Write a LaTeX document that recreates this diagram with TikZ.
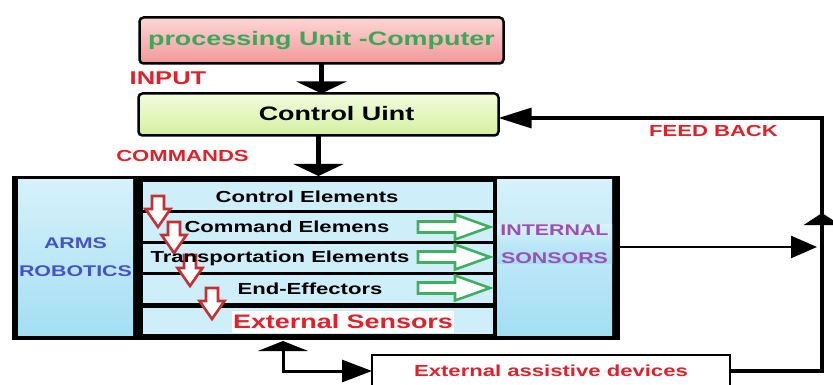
\documentclass[tikz,border=0pt]{standalone}
\usepackage{fontspec}
\setmainfont{Liberation Sans}[FakeStretch=1.38]
\usetikzlibrary{arrows.meta,positioning}

\definecolor{txtgreen}{RGB}{58,168,90}
\definecolor{tagred}{RGB}{226,32,42}
\definecolor{armsblue}{RGB}{70,82,205}
\definecolor{sensorpurple}{RGB}{160,78,178}
\definecolor{pinkhi}{RGB}{252,214,212}
\definecolor{pinklo}{RGB}{242,152,152}
\definecolor{greenhi}{RGB}{242,252,222}
\definecolor{greenlo}{RGB}{212,240,160}
\definecolor{panelhi}{RGB}{214,242,250}
\definecolor{panello}{RGB}{164,222,244}
\definecolor{rowblue}{RGB}{206,238,249}
\definecolor{arrred}{RGB}{196,48,52}
\definecolor{arrgreen}{RGB}{64,176,96}

\begin{document}
\begin{tikzpicture}[x=1pt, y=-1pt,
  unit/.style={draw, line width=2.5pt, rounded corners=4pt, inner sep=0pt, outer sep=0pt},
  panel/.style={minimum width=115pt, minimum height=155pt, top color=panelhi, bottom color=panello, inner sep=0pt, outer sep=0pt, align=center, font=\fontsize{15.5}{28}\selectfont\bfseries},
  rowbox/.style={minimum width=350pt, minimum height=27.5pt, fill=rowblue, inner sep=0pt, outer sep=0pt},
  rowtext/.style={font=\fontsize{16}{18}\selectfont\bfseries, inner sep=1pt},
  tag/.style={font=\fontsize{16}{18}\selectfont\bfseries, text=tagred},
  downflow/.style={-{Triangle[width=50pt,length=12pt]}, line width=5pt},
  fbflow/.style={-{Triangle[width=20pt,length=33pt]}, line width=3.2pt},
  upflow/.style={-{Triangle[width=36pt,length=12pt]}, line width=3.2pt},
  sflow/.style={-{Triangle[width=22pt,length=26pt]}, line width=2.5pt},
  linkflow/.style={{Triangle[width=50pt,length=10pt]}-{Triangle[width=22pt,length=30pt]}, line width=3pt},
  downarr/.pic={\draw[line width=2.6pt, draw=arrred, fill=white] (-6,0) -- (6,0) -- (6,13) -- (12.5,13) -- (0,31) -- (-12.5,13) -- (-6,13) -- cycle;},
  rightarr/.pic={\draw[line width=2.6pt, draw=arrgreen, fill=white] (0,-5.5) -- (37,-5.5) -- (37,-12.5) -- (72,0) -- (37,12.5) -- (37,5.5) -- (0,5.5) -- cycle;}
]
\useasboundingbox (0,0) rectangle (833,385);

% top of the chain
\node[unit, minimum width=364pt, minimum height=46pt, top color=pinkhi, bottom color=pinklo, text=txtgreen, font=\fontsize{19.5}{22}\selectfont\bfseries] (proc) at (321.5,40.5) {processing Unit -Computer};
\node[unit, minimum width=360pt, minimum height=42pt, top color=greenhi, bottom color=greenlo] (ctrl) at (318.5,114.5) {};
\node[font=\fontsize{19.5}{22}\selectfont\bfseries] (ctrltext) at (336.5,114) {Control Uint};
\node[tag, font=\fontsize{18.5}{20}\selectfont\bfseries] (input) at (168,78) {INPUT};
\node[tag] (commands) at (182.5,156) {COMMANDS};
\node[tag] (feedback) at (713.5,131) {FEED BACK};

% robot block
\node[fill=black, minimum width=608pt, minimum height=164pt, inner sep=0pt, outer sep=0pt] (robot) at (316,258) {};
\node[panel, text=armsblue] (arms) at (75.5,257.5) {ARMS\\ROBOTICS};
\node[panel] (intern) at (554.5,257.5) {};
\node[panel, text=sensorpurple, minimum height=0pt] (interntext) at (554.5,244) {INTERNAL\\SONSORS};
\node[rowbox] (r1) at (318,196) {};
\node[rowbox] (r2) at (318,227) {};
\node[rowbox] (r3) at (318,258) {};
\node[rowbox] (r4) at (318,289) {};
\node[rowbox, minimum height=26pt] (r5) at (318,320.5) {};

\pic at (158,196) {downarr};
\pic at (174,222) {downarr};
\pic at (190,255) {downarr};
\pic at (212,288) {downarr};
\pic at (418,227) {rightarr};
\pic at (418,257) {rightarr};
\pic at (418,288) {rightarr};

\node[rowtext] (t1) at (307,197) {Control Elements};
\node[rowtext] (t2) at (287,227) {Command Elemens};
\node[rowtext] (t3) at (280,258) {Transportation Elements};
\node[rowtext] (t4) at (310,289) {End-Effectors};
\node[rowtext, fill=white, text=tagred, font=\fontsize{19.5}{22}\selectfont\bfseries, minimum height=22pt] (t5) at (343,321.5) {External Sensors};

% external devices
\node[draw, line width=2.2pt, fill=white, minimum width=358pt, minimum height=32pt, inner sep=0pt, outer sep=0pt, font=\fontsize{16}{18}\selectfont\bfseries, text=tagred] (ext) at (551,371) {External assistive devices};

\coordinate (fbtop) at (822,118);
\coordinate (fbmid) at (822,213);
\coordinate (fbmidlow) at (822,226);
\coordinate (fbjoin) at (817,247);
\coordinate (linkup) at (283,341);

\draw[downflow] (proc.south) -- (proc.south |- ctrl.north);
\draw[downflow] (ctrl.south) -- (ctrl.south |- robot.north);
\draw[fbflow] (ext.east) -| (fbtop) -- (ctrl.east |- fbtop);
\draw[upflow] (fbmidlow) -- (fbmid);
\draw[sflow] (robot.east |- fbjoin) -- (fbjoin);
\draw[linkflow] (linkup) |- (ext.west);
\end{tikzpicture}
\end{document}
